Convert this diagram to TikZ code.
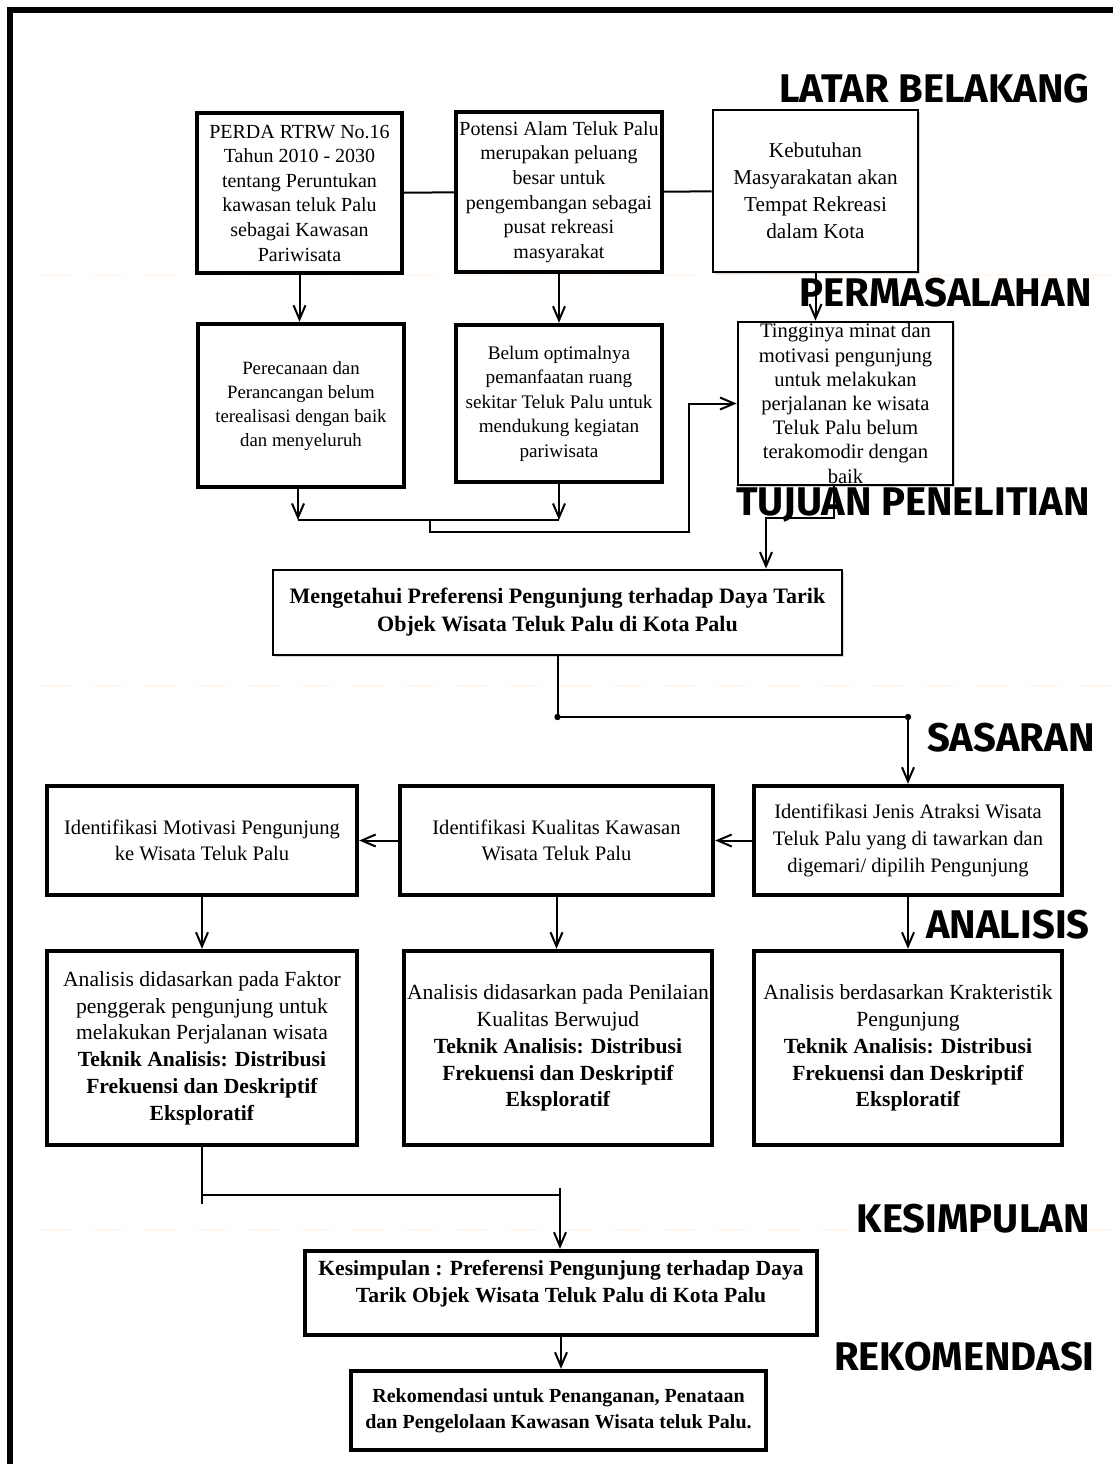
\documentclass[tikz,border=0pt]{standalone}
\usepackage{fontspec}
\setmainfont{Liberation Serif}
\newfontfamily\secfont{Fira Sans}
\usepackage{tikz}
\usetikzlibrary{arrows.meta,positioning,shadows}

\begin{document}
\begin{tikzpicture}
	[x=0.5pt,y=-0.5pt,
	box/.style={rectangle,draw=black,fill=white,line width=2.2pt,align=center,inner sep=1pt,
		drop shadow={shadow xshift=1.2pt,shadow yshift=-1.2pt,fill=black!30}},
	thinbox/.style={box,line width=1.4pt},
	arr/.style={-{Straight Barb[length=7pt,width=6pt]},line width=1pt},
	link/.style={line width=1pt},
	sect/.style={anchor=east,inner sep=0pt,font=\secfont\bfseries\fontsize{20}{20}\selectfont},
	faint/.style={draw=orange!6,line width=1pt,dash pattern=on 16pt off 10pt}]
	\useasboundingbox (0,0) rectangle (1113,1464);
	%% faint guide lines
	\draw [faint] (40,275) -- (1113,275);
	\draw [faint] (40,686) -- (1113,686);
	\draw [faint] (40,1230) -- (1113,1230);
	%% frame
	\draw [line width=3pt] (10,1464) -- (10,10) -- (1113,10);
	%% latar belakang
	\node (perda) at (299.5,193) [box,minimum width=102.5pt,minimum height=80pt,font=\fontsize{10}{12.3}\selectfont]
		{PERDA RTRW No.16\\Tahun 2010 - 2030\\tentang Peruntukan\\kawasan teluk Palu\\sebagai Kawasan\\Pariwisata};
	\node (potensi) at (559,192) [box,minimum width=103pt,minimum height=80pt,font=\fontsize{10}{12.3}\selectfont]
		{Potensi Alam Teluk Palu\\merupakan peluang\\besar untuk\\pengembangan sebagai\\pusat rekreasi\\masyarakat};
	\node (kebutuhan) at (815.5,191) [thinbox,minimum width=102.5pt,minimum height=81pt,font=\fontsize{10.6}{13.5}\selectfont]
		{Kebutuhan\\Masyarakatan akan\\Tempat Rekreasi\\dalam Kota};
	%% permasalahan
	\node (perencanaan) at (301,405.5) [box,minimum width=103pt,minimum height=81.5pt,font=\fontsize{9.4}{12}\selectfont]
		{Perecanaan dan\\Perancangan belum\\terealisasi dengan baik\\dan menyeluruh};
	\node (belum) at (559,403.5) [box,minimum width=103pt,minimum height=78.5pt,font=\fontsize{9.6}{12.25}\selectfont]
		{Belum optimalnya\\pemanfaatan ruang\\sekitar Teluk Palu untuk\\mendukung kegiatan\\pariwisata};
	\node (tingginya) at (845.5,403.5) [thinbox,inner ysep=0pt,minimum width=107.5pt,minimum height=81.5pt,font=\fontsize{10.3}{12.1}\selectfont]
		{Tingginya minat dan\\motivasi pengunjung\\untuk melakukan\\perjalanan ke wisata\\Teluk Palu belum\\terakomodir dengan\\baik};
	%% tujuan
	\node (tujuan) at (557.5,612.5) [thinbox,minimum width=284.5pt,minimum height=42.5pt,font=\bfseries\fontsize{11}{14}\selectfont]
		{Mengetahui Preferensi Pengunjung terhadap Daya Tarik\\Objek Wisata Teluk Palu di Kota Palu};
	%% sasaran
	\node (motivasi) at (202,840.5) [box,minimum width=155pt,minimum height=54.5pt,font=\fontsize{10.3}{13.25}\selectfont]
		{Identifikasi Motivasi Pengunjung\\ke Wisata Teluk Palu};
	\node (kualitas) at (556.5,840.5) [box,minimum width=156.5pt,minimum height=54.5pt,font=\fontsize{10.3}{13.25}\selectfont]
		{Identifikasi Kualitas Kawasan\\Wisata Teluk Palu};
	\node (jenis) at (908,840.5) [box,minimum width=154pt,minimum height=54.5pt,font=\fontsize{10.3}{13.5}\selectfont]
		{Identifikasi Jenis Atraksi Wisata\\Teluk Palu yang di tawarkan dan\\digemari/ dipilih Pengunjung};
	%% analisis
	\node (faktor) at (202,1048) [box,minimum width=155pt,minimum height=97pt,font=\fontsize{10.8}{13.4}\selectfont]
		{Analisis didasarkan pada Faktor\\penggerak pengunjung untuk\\melakukan Perjalanan wisata\\\textbf{Teknik Analisis: Distribusi}\\\textbf{Frekuensi dan Deskriptif}\\\textbf{Eksploratif}};
	\node (penilaian) at (558,1048) [box,minimum width=154pt,minimum height=97pt,font=\fontsize{10.8}{13.4}\selectfont]
		{Analisis didasarkan pada Penilaian\\Kualitas Berwujud\\\textbf{Teknik Analisis: Distribusi}\\\textbf{Frekuensi dan Deskriptif}\\\textbf{Eksploratif}};
	\node (karakter) at (908,1048) [box,minimum width=154pt,minimum height=97pt,font=\fontsize{10.8}{13.4}\selectfont]
		{Analisis berdasarkan Krakteristik\\Pengunjung\\\textbf{Teknik Analisis: Distribusi}\\\textbf{Frekuensi dan Deskriptif}\\\textbf{Eksploratif}};
	%% kesimpulan, rekomendasi
	\node (kesimpulan) at (561,1293) [box,minimum width=256pt,minimum height=42pt,font=\bfseries\fontsize{10.8}{13.5}\selectfont]
		{Kesimpulan : Preferensi Pengunjung terhadap Daya\\Tarik Objek Wisata Teluk Palu di Kota Palu\\[-6pt]\strut};
	\node (rekomendasi) at (558.5,1410.5) [box,minimum width=207.5pt,minimum height=39.5pt,font=\bfseries\fontsize{10}{13}\selectfont]
		{Rekomendasi untuk Penanganan, Penataan\\dan Pengelolaan Kawasan Wisata teluk Palu.};
	%% section titles
	\node (tLatar) at (1090,89) [sect] {LATAR BELAKANG};
	\node (tMasalah) at (1092,293) [sect] {PERMASALAHAN};
	\node (tTujuan) at (1090,505) [sect] {TUJUAN PENELITIAN};
	\node (tSasaran) at (1095,738) [sect] {SASARAN};
	\node (tAnalisis) at (1090,925) [sect] {ANALISIS};
	\node (tSimpul) at (1090,1219) [sect] {KESIMPULAN};
	\node (tRekom) at (1095,1357) [sect] {REKOMENDASI};
	%% connectors
	\draw [link] (perda) -- (potensi);
	\draw [link] (potensi) -- (kebutuhan);
	\draw [arr] (perda.south) -- (perda.south |- perencanaan.north);
	\draw [arr] (potensi.south) -- (potensi.south |- belum.north);
	\draw [arr] (kebutuhan.south) -- (kebutuhan.south |- tingginya.north);
	\coordinate (ja) at (298,520);
	\coordinate (jm) at (430,520);
	\coordinate (loop) at (689,532);
	\draw [arr] (perencanaan.south -| ja) -- (ja);
	\draw [arr] (belum.south) -- (belum.south |- ja);
	\draw [link] (ja) -- (belum.south |- ja);
	\draw [arr] (jm) |- (loop) |- (tingginya.west);
	\coordinate (tk) at (766,518);
	\draw [arr] ([xshift=-6pt]tingginya.south) |- (tk) -- (tk |- tujuan.north);
	\coordinate (s1) at (557.5,717);
	\draw [arr] (tujuan.south) -- (s1) -| (jenis.north);
	\fill (s1) circle (1.6pt);
	\fill (s1 -| jenis.north) circle (1.6pt);
	\draw [arr] (jenis) -- (kualitas);
	\draw [arr] (kualitas) -- (motivasi);
	\draw [arr] (motivasi) -- (faktor);
	\draw [arr] (kualitas.south) -- (kualitas.south |- penilaian.north);
	\draw [arr] (jenis) -- (karakter);
	\coordinate (k1) at (560,1195);
	\draw [link] (faktor.south) -- ++(0,57);
	\draw [link] (faktor.south |- k1) -- (k1);
	\draw [arr] ([yshift=3.5pt]k1) -- (k1 |- kesimpulan.north);
	\draw [arr] (kesimpulan.south) -- (kesimpulan.south |- rekomendasi.north);
\end{tikzpicture}
\end{document}
